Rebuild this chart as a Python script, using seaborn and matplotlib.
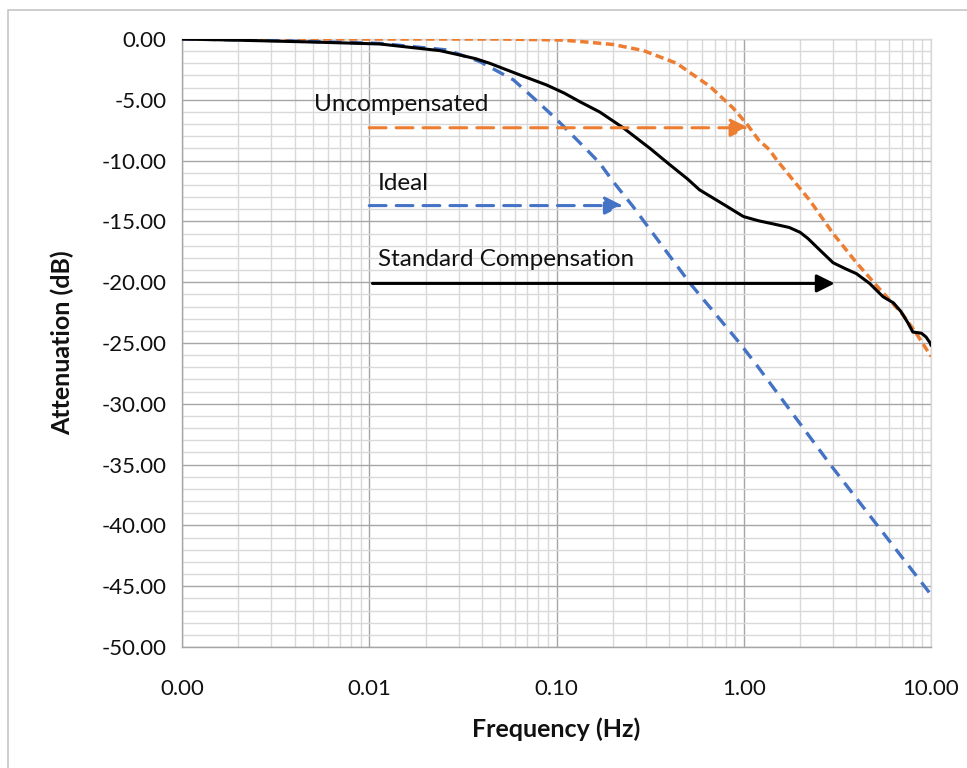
import numpy as np
import pandas as pd
import matplotlib
matplotlib.use("Agg")
import matplotlib.pyplot as plt
from matplotlib.ticker import FixedLocator, FuncFormatter, MultipleLocator
from matplotlib.patches import Rectangle
import seaborn as sns

# ---------------- data ----------------
std_freq = [0.001, 0.002, 0.005, 0.0114, 0.0239, 0.0305, 0.037, 0.044, 0.0639, 0.0885,
            0.11, 0.133, 0.17, 0.227, 0.316, 0.4, 0.5, 0.58, 0.8, 0.996, 1.2, 1.43,
            1.75, 2.0, 2.2, 2.45, 3.0, 3.5, 4.0, 4.7, 5.55, 6.3, 6.9, 7.5, 8.0, 8.5,
            8.9, 9.4, 9.9, 10.0]
std_db = [0.0, -0.1, -0.25, -0.41, -0.96, -1.32, -1.62, -2.0, -2.96, -3.78,
          -4.45, -5.15, -6.0, -7.3, -9.0, -10.3, -11.5, -12.4, -13.7, -14.6, -14.95, -15.2,
          -15.5, -15.9, -16.4, -17.1, -18.4, -18.9, -19.3, -20.1, -21.2, -21.7, -22.4, -23.3, -24.1, -24.15,
          -24.2, -24.5, -25.0, -25.2]

unc_freq = [0.001, 0.01, 0.05, 0.104, 0.133, 0.2, 0.291, 0.438, 0.66, 0.88, 1.04,
            1.2, 1.37, 1.5, 2.26, 3.0, 4.0, 5.13, 7.11, 8.5, 10.0]
unc_db = [0.0, 0.0, 0.0, -0.08, -0.2, -0.45, -0.95, -2.0, -3.9, -5.7, -7.0,
          -8.3, -9.1, -9.95, -13.3, -16.0, -18.4, -20.3, -22.7, -24.4, -26.1]

ideal_freq = [0.001, 0.003, 0.0114, 0.026, 0.039, 0.059, 0.0792, 0.1, 0.145, 0.17,
              0.2, 0.257, 0.29, 0.517, 0.95, 1.17, 2.9, 10.0]
ideal_db = [0.0, -0.12, -0.36, -0.9, -1.86, -3.37, -5.15, -6.6, -9.1, -10.2,
            -11.7, -13.8, -14.9, -20.1, -25.0, -26.8, -35.0, -45.7]

x_ticks = [0.001, 0.01, 0.1, 1.0, 10.0]
y_ticks = [0, -5, -10, -15, -20, -25, -30, -35, -40, -45, -50]

ann_labels = ["Uncompensated", "Ideal", "Standard Compensation"]
ann_text_xy = [(0.00507, -5.35), (0.0111, -11.9), (0.0111, -18.1)]
ann_arrow_start = [(0.01, -7.3), (0.01, -13.7), (0.0104, -20.1)]
ann_arrow_end = [(1.06, -7.3), (0.226, -13.7), (3.06, -20.1)]

# ---------------- style ----------------
sns.set_theme(style="white")
plt.rcParams["font.family"] = ["Lato", "DejaVu Sans"]

ORANGE = "#ED7D31"
BLUE = "#4472C4"
BLACK = "#000000"
TXT = "#111111"

fig = plt.figure(figsize=(9.67, 7.68), dpi=100)
ax = fig.add_axes([182 / 967, 1 - 647 / 768, (931 - 182) / 967, (647 - 39) / 768])

# outer chart border (only top/left visible in reference)
fig.add_artist(Rectangle((8 / 967, -0.2), 1.5, 1.2 - 10 / 768,
                         transform=fig.transFigure, fill=False,
                         edgecolor="#c6c6c6", linewidth=1.2))

df_unc = pd.DataFrame({"f": unc_freq, "db": unc_db})
df_ideal = pd.DataFrame({"f": ideal_freq, "db": ideal_db})
df_std = pd.DataFrame({"f": std_freq, "db": std_db})

sns.lineplot(data=df_unc, x="f", y="db", ax=ax, color=ORANGE, linewidth=2.5, zorder=3)
l_unc = ax.lines[-1]
l_unc.set_dashes((2.4, 1.3))
sns.lineplot(data=df_ideal, x="f", y="db", ax=ax, color=BLUE, linewidth=2.4, zorder=3)
l_ideal = ax.lines[-1]
l_ideal.set_dashes((3.8, 2.5))
sns.lineplot(data=df_std, x="f", y="db", ax=ax, color=BLACK, linewidth=2.2, zorder=4)
ax.lines[-1].set_solid_joinstyle("round")

ax.set_xscale("log")
ax.set_xlim(0.001, 10)
ax.set_ylim(-50, 0)

ax.xaxis.set_major_locator(FixedLocator(x_ticks))
ax.xaxis.set_minor_locator(FixedLocator(
    [m * d for d in [0.001, 0.01, 0.1, 1.0] for m in range(2, 10)]))
ax.xaxis.set_major_formatter(FuncFormatter(lambda v, p: f"{v:.2f}"))
ax.xaxis.set_minor_formatter(FuncFormatter(lambda v, p: ""))
ax.yaxis.set_major_locator(FixedLocator(y_ticks))
ax.yaxis.set_minor_locator(MultipleLocator(1))
ax.yaxis.set_major_formatter(FuncFormatter(lambda v, p: f"{v:.2f}"))

ax.grid(which="minor", color="#d9d9d9", linewidth=1.0, zorder=0)
ax.grid(which="major", color="#a6a6a6", linewidth=1.0, zorder=1)
ax.set_axisbelow(True)
for s in ax.spines.values():
    s.set_color("#d9d9d9")
    s.set_linewidth(1.0)
ax.spines["bottom"].set_color("#a6a6a6")
ax.spines["left"].set_color("#a6a6a6")

ax.tick_params(axis="both", which="both", length=0, labelsize=16, colors=TXT)
ax.tick_params(axis="x", pad=23)
ax.tick_params(axis="y", pad=11)

ax.set_xlabel("Frequency (Hz)", fontsize=18, fontweight="bold", color=TXT, labelpad=13)
ax.set_ylabel("Attenuation (dB)", fontsize=18, fontweight="bold", color=TXT, labelpad=20)

# annotations
ann_colors = [ORANGE, BLUE, BLACK]
ann_styles = [(0, (5.5, 3.3)), (0, (5.5, 3.3)), "-"]
for lab, txy, a0, a1, c, ls in zip(ann_labels, ann_text_xy, ann_arrow_start,
                                   ann_arrow_end, ann_colors, ann_styles):
    ax.text(txy[0], txy[1], lab, fontsize=17.5, color=TXT, ha="left", va="center", zorder=5)
    ax.annotate("", xy=a1, xytext=a0,
                arrowprops=dict(arrowstyle="-|>,head_length=0.9,head_width=0.45",
                                color=c, lw=2.2, linestyle=ls,
                                shrinkA=0, shrinkB=0),
                zorder=5)

fig.savefig("out.png", dpi=100)
